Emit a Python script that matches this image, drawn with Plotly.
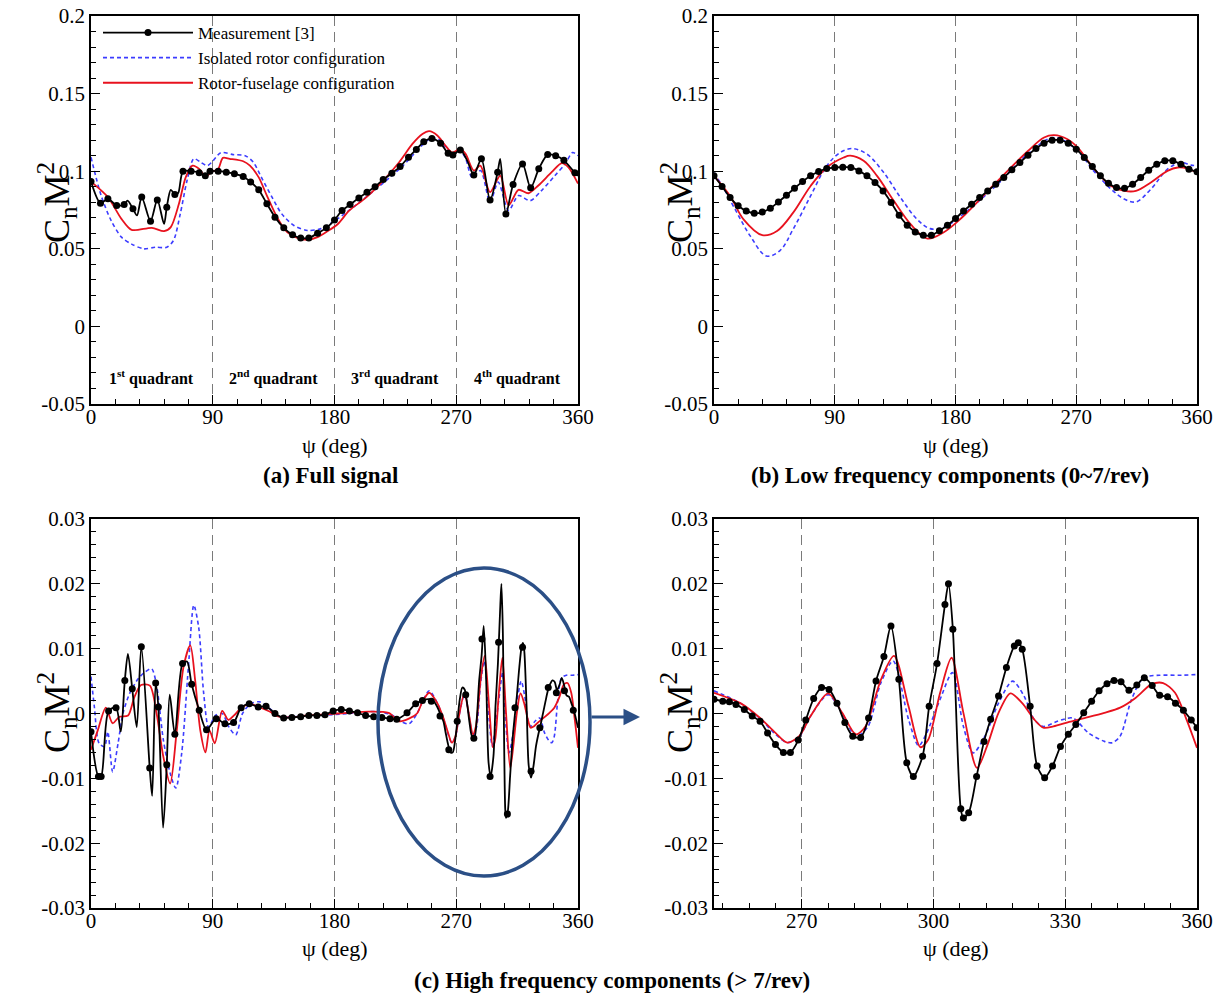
import plotly.graph_objects as go

# ------------------------------------------------------------------ data
# (a) Full signal
meas_a_x = [0, 7, 12.5, 19, 24.5, 31, 37.5, 44, 49, 56, 62, 68, 74, 80, 84.5, 88, 94, 100, 106, 112.5,
            118, 124, 130, 136, 142.5, 149, 155, 161, 167.5, 174, 180, 185.6, 191.5, 198, 204, 210, 216,
            222.4, 228.5, 234.7, 240.5, 246, 252, 258.4, 264, 267.5, 273, 283, 288.6, 295, 300.6, 306.7,
            312, 319, 325, 331, 337.6, 343.5, 349.6, 357.7]
meas_a_y = [0.0933, 0.0794, 0.0822, 0.0779, 0.0785, 0.0758, 0.0833, 0.0678, 0.0815, 0.0768, 0.085, 0.1,
            0.1, 0.099, 0.097, 0.1, 0.1, 0.0994, 0.0983, 0.0966, 0.093, 0.088, 0.079, 0.0704, 0.0635,
            0.059, 0.057, 0.057, 0.06, 0.0635, 0.0685, 0.0747, 0.0785, 0.0828, 0.0865, 0.09, 0.0946,
            0.0987, 0.103, 0.109, 0.114, 0.119, 0.121, 0.118, 0.1116, 0.1105, 0.1137, 0.0976, 0.108,
            0.0815, 0.0994, 0.0725, 0.0914, 0.1047, 0.0893, 0.1015, 0.1107, 0.110, 0.107, 0.099]
meas_a_peak_x = [27, 34, 54, 59, 64.5, 278, 302.5, 360]
meas_a_peak_y = [0.081, 0.0715, 0.066, 0.088, 0.086, 0.107, 0.108, 0.097]

iso_a_x = [0, 7.5, 15, 22.5, 30, 39, 47.5, 56, 61, 66, 71, 76, 81, 86, 90.5, 96, 105, 114, 120, 126,
           134, 141, 150, 160, 170, 180, 200, 230, 245, 252, 258, 265, 268, 273, 277, 281.7, 288, 295,
           301, 308.7, 316, 324.6, 333, 343, 350.5, 356, 360]
iso_a_y = [0.109, 0.0843, 0.068, 0.0575, 0.053, 0.05, 0.051, 0.051, 0.0554, 0.0725, 0.094, 0.108,
           0.1058, 0.1036, 0.107, 0.112, 0.1107, 0.11, 0.1058, 0.096, 0.083, 0.0725, 0.065, 0.0618,
           0.063, 0.068, 0.081, 0.103, 0.117, 0.1215, 0.12, 0.112, 0.110, 0.113, 0.108, 0.096, 0.1004,
           0.080, 0.093, 0.0747, 0.0843, 0.081, 0.0875, 0.0972, 0.1047, 0.112, 0.11]

fus_a_x = [0, 12.5, 22.5, 30, 45, 54, 59, 65, 70, 75, 80, 84.5, 89, 94, 97.5, 102.5, 112.5, 117.5, 124,
           130, 137.5, 145, 152.5, 160, 167.5, 175, 182.5, 191, 203, 215, 227.8, 237.6, 245, 250, 256,
           262, 267, 273, 277, 283, 287.8, 295, 302.5, 308.7, 316, 323.4, 330.7, 340.5, 348, 352.8, 360]
fus_a_y = [0.0933, 0.0833, 0.0693, 0.0622, 0.0635, 0.0614, 0.064, 0.079, 0.096, 0.1036, 0.1015, 0.0966,
           0.0994, 0.1015, 0.1086, 0.108, 0.1064, 0.1036, 0.096, 0.0843, 0.0704, 0.0607, 0.057, 0.0558,
           0.0575, 0.0614, 0.066, 0.0747, 0.0828, 0.093, 0.1058, 0.1176, 0.124, 0.1258, 0.123, 0.1165,
           0.112, 0.1144, 0.111, 0.1004, 0.1036, 0.0865, 0.0972, 0.078, 0.088, 0.0858, 0.0908, 0.0994,
           0.1052, 0.1026, 0.092]

# (b) Low frequency components
meas_b_x = [0, 6, 12, 18, 24, 30, 36, 42, 48, 54, 60, 66, 72, 78, 84, 90, 96, 102, 108, 114, 120, 126,
            132, 138, 144, 150, 156, 162, 168, 174, 180, 186, 192, 198, 204, 210, 216, 222, 228, 234,
            240, 246, 252, 258, 264, 270, 276, 282, 288, 294, 300, 306, 312, 318, 324, 330, 336, 342,
            348, 354, 360]
meas_b_y = [0.097, 0.0902, 0.083, 0.0777, 0.0744, 0.0729, 0.0737, 0.0761, 0.0802, 0.0845, 0.089, 0.0933,
            0.097, 0.0998, 0.1017, 0.1024, 0.1026, 0.1024, 0.1002, 0.097, 0.0927, 0.0873, 0.0798, 0.0716,
            0.0652, 0.0609, 0.0587, 0.0587, 0.0616, 0.0652, 0.0695, 0.0744, 0.0787, 0.083, 0.0873, 0.0916,
            0.096, 0.1009, 0.1056, 0.1103, 0.1146, 0.118, 0.12, 0.12, 0.118, 0.1142, 0.1088, 0.103, 0.097,
            0.0923, 0.0895, 0.089, 0.0916, 0.096, 0.1006, 0.1045, 0.1067, 0.1067, 0.1045, 0.1013, 0.0996]

iso_b_x = [0, 7, 17, 27, 39, 49, 59, 72, 84, 94, 103, 114, 126.5, 139, 151.4, 161, 171, 184, 210, 235,
           253.5, 270, 283, 296, 306, 314.5, 325.6, 338, 348, 355.5, 360]
iso_b_y = [0.099, 0.0894, 0.0734, 0.0583, 0.0454, 0.0487, 0.0626, 0.0841, 0.1034, 0.112, 0.1146, 0.111,
           0.0991, 0.083, 0.069, 0.063, 0.0637, 0.0712, 0.0905, 0.112, 0.1217, 0.114, 0.1002, 0.0884,
           0.082, 0.0802, 0.0884, 0.1013, 0.1056, 0.1039, 0.1035]

fus_b_x = [0, 12, 22, 36, 47, 59, 72, 84, 96.6, 101.6, 111.5, 121.5, 134, 146.5, 159, 171, 184, 209,
           234, 246, 253.5, 263.5, 271, 283.5, 296, 306, 314.5, 325.6, 338, 345.7, 353, 360]
fus_b_y = [0.097, 0.084, 0.069, 0.0588, 0.0615, 0.0733, 0.0905, 0.1024, 0.1088, 0.110, 0.1067, 0.097,
           0.0809, 0.0659, 0.0566, 0.0605, 0.0695, 0.0916, 0.113, 0.1217, 0.1232, 0.1206, 0.1153, 0.1013,
           0.0905, 0.0873, 0.0873, 0.0927, 0.1002, 0.1024, 0.1017, 0.0991]

# (c) High frequency components, 0-250 deg part
meas_c_x = [0, 5.5, 7.5, 13, 18.5, 25, 30.5, 37.2, 43.4, 47.8, 49.8, 56, 62, 67.7, 74.4, 80, 85.4, 92.6,
            99, 105.4, 111, 117, 123.6, 129.4, 136, 142.4, 148.5, 155, 161, 167, 173, 179, 185, 191, 197,
            203, 209, 215, 221, 226, 233.6, 240, 245]
meas_c_y = [-0.0028, -0.0097, -0.0097, 0.0004, 0.0009, 0.0051, 0.0038, 0.0103, -0.0084, 0.0047, 0.001,
            -0.0079, -0.0032, 0.0077, 0.0045, 0.0005, -0.0025, -0.0008, -0.0016, -0.0014, 0.0009, 0.0015,
            0.001, 0.0011, 0.0, -0.0007, -0.0006, -0.0005, -0.0003, -0.0003, -0.0002, 0.0004, 0.0006,
            0.0004, 0.0001, -0.0003, -0.0005, -0.0006, -0.0008, -0.0009, 0.0001, 0.0015, 0.002]
meas_c_peak_x = [22, 27.3, 33.8, 45.2, 53.3, 58.2, 71]
meas_c_peak_y = [-0.0028, 0.0092, -0.0021, -0.0127, -0.0176, 0.0029, 0.008]
# measurement symbols drawn in (c) for 250-360 deg
meas_c_mark_x = [251.6, 258, 264.5, 270.7, 277, 283, 289, 295, 301.3, 307.8, 313.4, 319, 325.3, 331.8,
                 338, 344, 350, 356.5]
meas_c_mark_y = [0.0019, -0.0004, -0.0056, -0.0012, 0.0029, -0.0038, 0.0115, -0.0097, 0.011, -0.0155,
                 0.0009, 0.0102, -0.0089, -0.0022, 0.004, 0.0032, 0.0035, 0.0005]

iso_c_x = [0, 2.5, 6, 10, 12.4, 16, 20, 23.6, 28.6, 35, 40, 44.8, 48.5, 53.5, 58.5, 62.7, 67, 72, 76,
           79.6, 83.3, 87, 92, 97, 102, 107, 112, 118, 124.4, 132, 139, 150, 170, 190, 210, 222, 229, 235,
           241, 245]
iso_c_y = [0.0057, 0.001, -0.0046, -0.0051, -0.0028, -0.009, -0.0046, 0.0, 0.0031, 0.0054, 0.0064, 0.0069,
           0.0043, -0.0041, -0.0092, -0.0115, -0.0062, 0.0072, 0.0167, 0.0133, 0.0031, -0.0021, -0.0003,
           0.0, -0.0021, -0.0033, 0.0, 0.0015, 0.0018, 0.0008, -0.0005, -0.0005, -0.0003, 0.0, 0.0003,
           -0.0002, -0.0012, -0.0016, 0.0, 0.0018]

fus_c_x = [0, 5, 11, 16, 21, 27.4, 32, 37, 43.5, 48.5, 53.5, 58.5, 63.4, 68.4, 73.4, 77, 80.8, 84.6, 87.6,
           91.5, 97, 101.5, 105.7, 110.7, 117, 124, 132, 139, 147, 160, 175, 190, 205, 220, 228, 235, 241,
           245]
fus_c_y = [-0.0056, -0.0026, 0.0009, -0.0015, -0.0005, -0.0003, 0.0025, 0.0044, 0.0043, 0.0, -0.0067,
           -0.0108, -0.0026, 0.0072, 0.0105, 0.0051, -0.0026, -0.006, -0.0026, -0.0046, 0.0004, -0.001,
           -0.0003, 0.0008, 0.0015, 0.001, 0.0003, -0.0005, -0.0006, -0.0003, -0.0001, 0.0001, 0.0003,
           0.0001, -0.0012, -0.0008, 0.0, 0.0018]

# (c) zoom, 250-360 deg (also the 250-360 part of (c))
meas_d_x = [250, 252, 253.5, 255, 256.9, 258.7, 260.5, 262.2, 264, 265.8, 267.4, 269.2, 270.9, 272.7, 274.5,
            276.2, 278, 279.8, 281.6, 283.4, 285.2, 286.9, 288.7, 290.3, 292.1, 293.9, 295.4, 297.5, 299,
            300.8, 302.6, 303.4, 304.4, 306.2, 306.8, 308, 309.8, 311.5, 313, 314.8, 316.6, 318.4, 319.3,
            320.2, 322, 323.6, 325.3, 327.1, 328.9, 330.7, 332.4, 334.2, 336, 337.7, 339.5, 341.1, 342.7,
            344.5, 346.3, 348, 349.8, 351.5, 353.3, 355.1, 356.9, 358.7, 360]
meas_d_y = [0.0022, 0.0019, 0.0018, 0.0014, 0.0006, -0.0004, -0.0012, -0.003, -0.0048, -0.006, -0.006,
            -0.0041, -0.001, 0.0023, 0.004, 0.0037, 0.0016, -0.0014, -0.0035, -0.0037, -0.0007, 0.005,
            0.0088, 0.0135, 0.0053, -0.0076, -0.0097, -0.0066, 0.0011, 0.0077, 0.0168, 0.02, 0.013,
            -0.0147, -0.0161, -0.0153, -0.0097, -0.0043, -0.0009, 0.0027, 0.0071, 0.0104, 0.0109, 0.0099,
            0.0011, -0.0081, -0.0099, -0.0081, -0.0051, -0.0032, -0.0017, 0.0001, 0.0019, 0.0035, 0.0046,
            0.0051, 0.0049, 0.0036, 0.0044, 0.0055, 0.0043, 0.0028, 0.0026, 0.0016, 0.0005, -0.001, -0.0022]

iso_d_x = [250, 256, 260.5, 264, 266.7, 269.4, 272, 276, 279.2, 282.3, 285, 288, 290.8, 294.3, 296.6, 298.3,
           301.5, 304.3, 306.8, 309, 311.7, 314.8, 318, 320.6, 322.9, 325, 328.2, 331.7, 335.3, 338.9,
           340.7, 342.5, 345.1, 347.8, 351.4, 355.8, 360]
iso_d_y = [0.0035, 0.0016, -0.0008, -0.0032, -0.0045, -0.0036, -0.0004, 0.0029, 0.0, -0.0035, -0.0021,
           0.0047, 0.0081, -0.0009, -0.005, -0.0032, 0.0022, 0.0063, -0.002, -0.0061, -0.0035, 0.0016,
           0.005, 0.0027, -0.0009, -0.002, -0.0012, -0.0007, -0.003, -0.0043, -0.0045, -0.0035, 0.0022,
           0.0055, 0.0059, 0.0059, 0.006]

fus_d_x = [250, 256, 260.5, 264, 266.7, 269.4, 272, 276, 279.2, 282.3, 284.5, 288, 291, 294.3, 297, 298.8,
           301.5, 304.1, 306.8, 309.9, 312.2, 314.8, 317.5, 320.2, 322.9, 325, 327.3, 330.9, 334.4, 338.9,
           342.5, 346, 349.6, 352.3, 355, 357.6, 360]
fus_d_y = [0.0032, 0.0016, -0.0007, -0.003, -0.0045, -0.0035, -0.0004, 0.0031, 0.0001, -0.0032, -0.002,
           0.0052, 0.0089, 0.0011, -0.0052, -0.004, 0.0032, 0.0086, 0.0001, -0.0084, -0.005, 0.0001, 0.0031,
           0.0016, -0.0009, -0.0022, -0.002, -0.0013, -0.0007, 0.0001, 0.0009, 0.0024, 0.0045, 0.0047,
           0.0032, -0.0009, -0.0053]

# axis ticks
psi_ticks_full = [0, 90, 180, 270, 360]
psi_ticks_zoom = [270, 300, 330, 360]
cn_ticks_full = [-0.05, 0, 0.05, 0.1, 0.15, 0.2]
cn_labels_full = ["-0.05", "0", "0.05", "0.1", "0.15", "0.2"]
cn_ticks_high = [-0.03, -0.02, -0.01, 0, 0.01, 0.02, 0.03]
cn_labels_high = ["-0.03", "-0.02", "-0.01", "0", "0.01", "0.02", "0.03"]

series_names = ["Measurement [3]", "Isolated rotor configuration", "Rotor-fuselage configuration"]
quadrant_labels = ["1<sup>st</sup> quadrant", "2<sup>nd</sup> quadrant",
                   "3<sup>rd</sup> quadrant", "4<sup>th</sup> quadrant"]
quadrant_centres = [45, 135, 225, 315]
captions = ["(a) Full signal", "(b) Low frequency components (0~7/rev)",
            "(c) High frequency components (> 7/rev)"]

# ------------------------------------------------------------------ styling
W, H = 1225, 998
FONT = "Liberation Serif, Times New Roman, serif"
BLACK, BLUE, RED, NAVY = "#000000", "#3c3cff", "#e8121e", "#2b4f86"


def px(x):
    return x / W


def py(y):
    return 1 - y / H


def merged(xa, ya, xb, yb):
    pts = sorted(zip(list(xa) + list(xb), list(ya) + list(yb)))
    return [p[0] for p in pts], [p[1] for p in pts]


fig = go.Figure()

# legend entries
fig.add_trace(go.Scatter(x=[None], y=[None], mode="lines+markers", name=series_names[0],
                         line=dict(color=BLACK, width=1.8), marker=dict(size=7, color=BLACK),
                         xaxis="x", yaxis="y"))
fig.add_trace(go.Scatter(x=[None], y=[None], mode="lines", name=series_names[1],
                         line=dict(color=BLUE, width=1.6, dash="4px,3px"), xaxis="x", yaxis="y"))
fig.add_trace(go.Scatter(x=[None], y=[None], mode="lines", name=series_names[2],
                         line=dict(color=RED, width=1.8), xaxis="x", yaxis="y"))


def add_panel(ax, iso, fus, meas_line, meas_marks, smooth=1.0):
    xa, ya = ax
    fig.add_trace(go.Scatter(x=iso[0], y=iso[1], mode="lines", showlegend=False,
                             line=dict(color=BLUE, width=1.6, dash="4px,3px", shape="spline",
                                       smoothing=smooth), xaxis=xa, yaxis=ya))
    fig.add_trace(go.Scatter(x=fus[0], y=fus[1], mode="lines", showlegend=False,
                             line=dict(color=RED, width=1.8, shape="spline", smoothing=smooth),
                             xaxis=xa, yaxis=ya))
    fig.add_trace(go.Scatter(x=meas_line[0], y=meas_line[1], mode="lines", showlegend=False,
                             line=dict(color=BLACK, width=1.8, shape="spline", smoothing=smooth),
                             xaxis=xa, yaxis=ya))
    fig.add_trace(go.Scatter(x=meas_marks[0], y=meas_marks[1], mode="markers", showlegend=False,
                             marker=dict(size=7, color=BLACK), xaxis=xa, yaxis=ya))


# (a)
add_panel(("x", "y"), (iso_a_x, iso_a_y), (fus_a_x, fus_a_y),
          merged(meas_a_x, meas_a_y, meas_a_peak_x, meas_a_peak_y), (meas_a_x, meas_a_y), 0.8)
# (b)
add_panel(("x2", "y2"), (iso_b_x, iso_b_y), (fus_b_x, fus_b_y),
          (meas_b_x, meas_b_y), (meas_b_x, meas_b_y), 1.0)
# (c)
mcx, mcy = merged(meas_c_x, meas_c_y, meas_c_peak_x, meas_c_peak_y)
add_panel(("x3", "y3"), (iso_c_x + iso_d_x, iso_c_y + iso_d_y), (fus_c_x + fus_d_x, fus_c_y + fus_d_y),
          (mcx + meas_d_x, mcy + meas_d_y), (meas_c_x + meas_c_mark_x, meas_c_y + meas_c_mark_y), 0.8)
# (c) zoom
add_panel(("x4", "y4"), (iso_d_x, iso_d_y), (fus_d_x, fus_d_y),
          (meas_d_x, meas_d_y), (meas_d_x, meas_d_y), 0.8)

XL, XR = [px(91), px(578)], [px(714), px(1197)]
YT, YB = [py(404), py(16)], [py(908), py(519)]

tickfont = dict(family=FONT, size=21, color=BLACK)
common = dict(showline=True, linecolor=BLACK, linewidth=1.8, mirror=True, ticks="inside",
              ticklen=9, tickwidth=1.4, tickcolor=BLACK, tickfont=tickfont, zeroline=False,
              automargin=False)


def xaxis(domain, anchor, rng, ticks, minor_dtick, tick0):
    return dict(domain=domain, anchor=anchor, range=rng, tickmode="array", tickvals=ticks,
                ticktext=[str(t) for t in ticks], showgrid=True, gridcolor="#7a7a7a", gridwidth=1,
                griddash="10px,6px", ticklabelstandoff=-7,
                minor=dict(tickmode="linear", tick0=tick0, dtick=minor_dtick, ticks="inside", ticklen=5,
                           tickwidth=1.2, tickcolor=BLACK, showgrid=False),
                **common)


def yaxis(domain, anchor, rng, ticks, labels, minor_dtick):
    return dict(domain=domain, anchor=anchor, range=rng, tickmode="array", tickvals=ticks,
                ticktext=labels, showgrid=False,
                minor=dict(tickmode="linear", tick0=0, dtick=minor_dtick, ticks="inside", ticklen=5,
                           tickwidth=1.2, tickcolor=BLACK, showgrid=False),
                **common)


fig.update_layout(
    width=W, height=H, margin=dict(l=0, r=0, t=0, b=0, autoexpand=False),
    paper_bgcolor="white", plot_bgcolor="white",
    font=dict(family=FONT, color=BLACK),
    xaxis=xaxis(XL, "y", [0, 360], psi_ticks_full, 18, 0),
    yaxis=yaxis(YT, "x", [-0.05, 0.2], cn_ticks_full, cn_labels_full, 0.01),
    xaxis2=xaxis(XR, "y2", [0, 360], psi_ticks_full, 18, 0),
    yaxis2=yaxis(YT, "x2", [-0.05, 0.2], cn_ticks_full, cn_labels_full, 0.01),
    xaxis3=xaxis(XL, "y3", [0, 360], psi_ticks_full, 18, 0),
    yaxis3=yaxis(YB, "x3", [-0.03, 0.03], cn_ticks_high, cn_labels_high, 0.002),
    xaxis4=xaxis(XR, "y4", [250, 360], psi_ticks_zoom, 6, 270),
    yaxis4=yaxis(YB, "x4", [-0.03, 0.03], cn_ticks_high, cn_labels_high, 0.002),
    legend=dict(x=px(98), y=py(15), xanchor="left", yanchor="top", bgcolor="rgba(0,0,0,0)",
                font=dict(family=FONT, size=17, color=BLACK), tracegroupgap=0, itemwidth=90),
    showlegend=True,
)

ann = []
# axis titles
for xc, yc in [((91 + 578) / 2, 445), ((714 + 1197) / 2, 445), ((91 + 578) / 2, 948), ((714 + 1197) / 2, 948)]:
    ann.append(dict(x=px(xc), y=py(yc), xref="paper", yref="paper", text="ψ (deg)", showarrow=False,
                    xanchor="center", yanchor="middle", font=dict(family=FONT, size=22, color=BLACK)))
for xc, yc in [(57, 203), (680, 203), (57, 713), (680, 713)]:
    ann.append(dict(x=px(xc), y=py(yc), xref="paper", yref="paper", text="C<sub>n</sub>M<sup>2</sup>",
                    textangle=-90, showarrow=False, xanchor="center", yanchor="middle",
                    font=dict(family=FONT, size=36, color=BLACK)))
# captions
for (xc, yc), txt in zip([(330, 475), (950, 475), (612, 980)], captions):
    ann.append(dict(x=px(xc), y=py(yc), xref="paper", yref="paper", text="<b>%s</b>" % txt,
                    showarrow=False, xanchor="center", yanchor="middle",
                    font=dict(family=FONT, size=23, color=BLACK)))
# quadrant labels
for xc, txt in zip(quadrant_centres, quadrant_labels):
    ann.append(dict(x=xc, y=-0.033, xref="x", yref="y", text="<b>%s</b>" % txt, showarrow=False,
                    xanchor="center", yanchor="middle", font=dict(family=FONT, size=16, color=BLACK)))
# arrow from circled region to zoomed panel
ann.append(dict(x=px(640), y=py(717), xref="paper", yref="paper", ax=-50, ay=0, text="",
                showarrow=True, arrowhead=2, arrowsize=1.1, arrowwidth=3, arrowcolor=NAVY))
fig.update_layout(annotations=ann)

fig.add_shape(type="circle", xref="paper", yref="paper", x0=px(378), x1=px(590), y0=py(876), y1=py(568),
              line=dict(color=NAVY, width=3.5))

fig.write_html("out.html")
